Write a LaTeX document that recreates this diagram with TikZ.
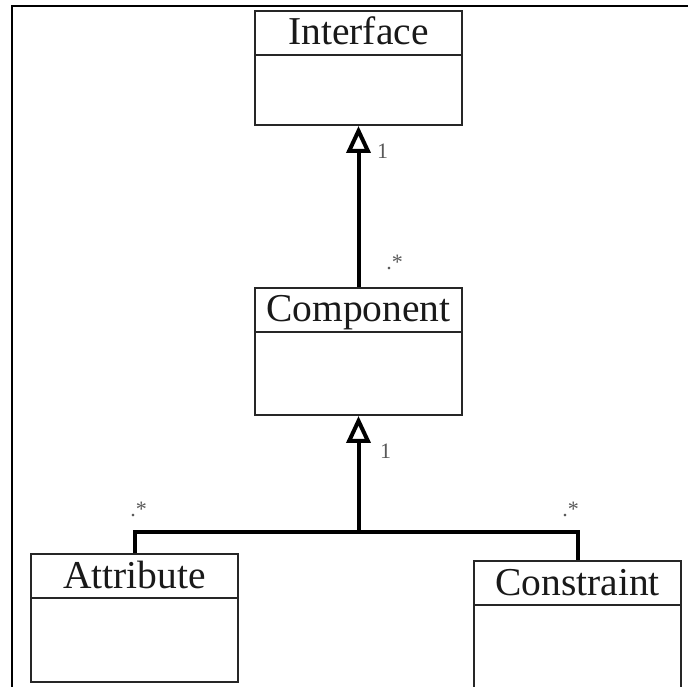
\documentclass[tikz,border=0pt]{standalone}
\usepackage{fontspec}
\setmainfont{Liberation Serif}
\usetikzlibrary{shapes.multipart}
\usetikzlibrary{arrows.meta}
\usetikzlibrary{positioning}
\tikzstyle{ClassBox} = [rectangle split, rectangle split parts = 2, draw = black!85, line width = 2pt,
                        inner xsep = 0pt, inner ysep = 0pt, minimum width = 207pt, text = black!90,
                        font = \fontsize{39.5}{44}\selectfont]
\tikzstyle{GenLine}  = [line width = 4pt, -{Triangle[open, length = 27pt, width = 24pt]}]
\tikzstyle{AssocLine}= [line width = 4pt, line join = miter]
\tikzstyle{Mult}     = [text = black!65, inner sep = 0pt, font = \fontsize{22}{24}\selectfont]
\tikzstyle{FrameLine}= [line width = 2.5pt]
\newcommand{\clsname}[1]{\rule[-9pt]{0pt}{42pt}#1}
\newcommand{\clsbody}[1]{\rule{0pt}{#1}}
\begin{document}
\begin{tikzpicture}[x = 1pt, y = 1pt]
\clip (0,0) rectangle (688,686);

\draw [FrameLine] (12,-5) |- (700,680);

%% ------------------------------------------------------------ [ Classes ]
\node (iface) [ClassBox, anchor = north] at (358.5,676)
      {\clsname{Interface} \nodepart{two} \clsbody{68pt}};

\node (comp) [ClassBox, below = 161pt of iface]
      {\clsname{Component} \nodepart{two} \clsbody{81pt}};

\node (attr) [ClassBox, below left = 137pt and 15pt of comp]
      {\clsname{Attribute} \nodepart{two} \clsbody{82pt}};

\node (cons) [ClassBox, below right = 144pt and 10pt of comp]
      {\clsname{Constraint} \nodepart{two} \clsbody{95pt}};

%% ------------------------------------------------------------ [ Links ]
\coordinate (junc) at ([yshift = 21pt]comp.south |- attr.north);

\draw [GenLine] (comp.north) -- (iface.south);
\draw [AssocLine] (attr.north) |- (junc) -| (cons.north);
\draw [GenLine] (junc) -- (comp.south);

%% ------------------------------------------------------------ [ Multiplicities ]
\node (m1) [Mult] at ([xshift = 24pt, yshift = -25pt]iface.south) {1};
\node (m2) [Mult] at ([xshift = 36pt, yshift = 25pt]comp.north) {.*};
\node (m3) [Mult] at ([xshift = 27pt, yshift = -35pt]comp.south) {1};
\node (m4) [Mult] at ([xshift = 4pt, yshift = 44pt]attr.north) {.*};
\node (m5) [Mult] at ([xshift = -7pt, yshift = 51pt]cons.north) {.*};
\end{tikzpicture}
\end{document}
